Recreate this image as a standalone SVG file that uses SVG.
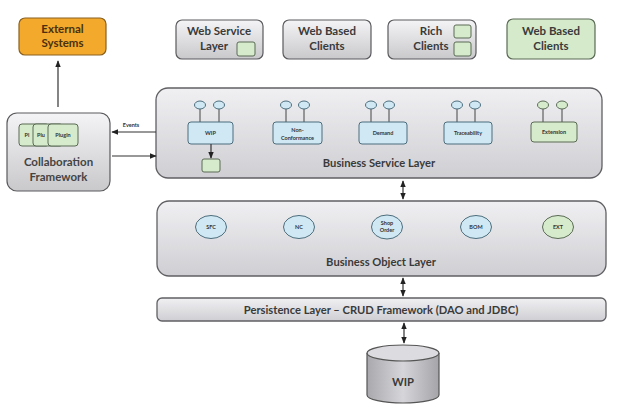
<svg xmlns="http://www.w3.org/2000/svg" width="629" height="412" viewBox="0 0 629 412">
<defs>
<linearGradient id="gGray" x1="0" y1="0" x2="0" y2="1">
<stop offset="0" stop-color="#f4f4f6"/><stop offset="1" stop-color="#c9c9cc"/>
</linearGradient>
<linearGradient id="gLayer" x1="0" y1="0" x2="0" y2="1">
<stop offset="0" stop-color="#f0f0f3"/><stop offset="1" stop-color="#cfcfd3"/>
</linearGradient>
<linearGradient id="gCyl" x1="0" y1="0" x2="1" y2="0">
<stop offset="0" stop-color="#a9a9ad"/><stop offset="0.5" stop-color="#d6d6da"/><stop offset="1" stop-color="#a5a5a9"/>
</linearGradient>
<marker id="ah" viewBox="0 0 10 10" refX="9" refY="5" markerWidth="6" markerHeight="6" orient="auto-start-reverse">
<path d="M0,1 L10,5 L0,9 z" fill="#222"/>
</marker>
</defs>
<style>
.t{font-family:Lato,"Open Sans","Liberation Sans",sans-serif;font-weight:bold;fill:#3a3a3a;text-anchor:middle}
.top{font-size:11.5px}
.lbl{font-size:11.2px}
.gray{fill:url(#gGray);stroke:#5a5a5e;stroke-width:1.2}
.layer{fill:url(#gLayer);stroke:#606064;stroke-width:1.3}
.blue{fill:#cfe8f4;stroke:#4d6d7c;stroke-width:1}
.green{fill:#d6ebcc;stroke:#5a6a55;stroke-width:1}
.small{font-size:5.5px;fill:#333}
.stem{stroke:#444;stroke-width:1;fill:none}
.conn{stroke:#333;stroke-width:1.2;fill:none}
</style>

<g id="external-systems">
<rect x="19" y="18" width="87" height="37" rx="6" fill="#f2a92c" stroke="#8a6020" stroke-width="1.2"/>
<text class="t top" x="62.5" y="33" style="fill:#4a3010">External</text>
<text class="t top" x="62.5" y="47" style="fill:#4a3010">Systems</text>
</g>

<g id="web-service-layer">
<rect class="gray" x="176" y="20" width="87" height="39" rx="6"/>
<text class="t top" x="219" y="35">Web Service</text>
<text class="t top" x="214" y="50">Layer</text>
<rect class="green" x="237" y="42" width="18" height="14" rx="2"/>
</g>

<g id="web-based-clients-gray">
<rect class="gray" x="283" y="20" width="88" height="39" rx="6"/>
<text class="t top" x="327" y="35">Web Based</text>
<text class="t top" x="327" y="50">Clients</text>
</g>

<g id="rich-clients">
<rect class="gray" x="388" y="20" width="88" height="39" rx="6"/>
<text class="t top" x="431" y="35">Rich</text>
<text class="t top" x="431" y="50">Clients</text>
<rect class="green" x="454" y="25" width="17" height="13" rx="2"/>
<rect class="green" x="454" y="42" width="17" height="14" rx="2"/>
</g>

<g id="web-based-clients-green">
<rect x="507" y="19" width="88" height="40" rx="6" fill="#d4eacb" stroke="#5a6a55" stroke-width="1.2"/>
<text class="t top" x="551" y="35">Web Based</text>
<text class="t top" x="551" y="50">Clients</text>
</g>

<g id="collaboration-framework">
<rect class="gray" x="7" y="113" width="103" height="78" rx="10"/>
<rect class="green" x="19" y="124" width="30" height="22" rx="3"/>
<text class="t small" x="27" y="137">Pl</text>
<rect class="green" x="33" y="124" width="30" height="22" rx="3"/>
<text class="t small" x="41" y="137">Plu</text>
<rect class="green" x="48" y="124" width="30" height="22" rx="3"/>
<text class="t small" x="63" y="137">Plugin</text>
<text class="t" x="58.5" y="166" style="font-size:11.5px;fill:#444">Collaboration</text>
<text class="t" x="58.5" y="181" style="font-size:11.5px;fill:#444">Framework</text>
</g>

<g id="business-service-layer">
<rect class="layer" x="156" y="88" width="446" height="90" rx="12"/>
<text class="t lbl" x="379" y="167">Business Service Layer</text>
</g>

<g id="svc-wip">
<line class="stem" x1="200" y1="109" x2="200" y2="122"/>
<line class="stem" x1="219" y1="109" x2="219" y2="122"/>
<ellipse class="blue" cx="200" cy="105" rx="5.5" ry="4"/>
<ellipse class="blue" cx="219" cy="105" rx="5.5" ry="4"/>
<rect class="blue" x="188" y="122" width="45" height="22" rx="3"/>
<text class="t small" x="210.5" y="135">WIP</text>
<rect class="green" x="202" y="159" width="18" height="13" rx="2"/>
</g>

<g id="svc-nonconformance">
<line class="stem" x1="286" y1="109" x2="286" y2="122"/>
<line class="stem" x1="304" y1="109" x2="304" y2="122"/>
<ellipse class="blue" cx="286" cy="105" rx="5.5" ry="4"/>
<ellipse class="blue" cx="304" cy="105" rx="5.5" ry="4"/>
<rect class="blue" x="273" y="122" width="49" height="22" rx="3"/>
<text class="t small" x="297.5" y="132">Non-</text>
<text class="t small" x="297.5" y="139.5">Conformance</text>
</g>

<g id="svc-demand">
<line class="stem" x1="371" y1="109" x2="371" y2="122"/>
<line class="stem" x1="389" y1="109" x2="389" y2="122"/>
<ellipse class="blue" cx="371" cy="105" rx="5.5" ry="4"/>
<ellipse class="blue" cx="389" cy="105" rx="5.5" ry="4"/>
<rect class="blue" x="359" y="122" width="48" height="22" rx="3"/>
<text class="t small" x="383" y="135">Demand</text>
</g>

<g id="svc-traceability">
<line class="stem" x1="457" y1="109" x2="457" y2="122"/>
<line class="stem" x1="475" y1="109" x2="475" y2="122"/>
<ellipse class="blue" cx="457" cy="105" rx="5.5" ry="4"/>
<ellipse class="blue" cx="475" cy="105" rx="5.5" ry="4"/>
<rect class="blue" x="444" y="122" width="48" height="22" rx="3"/>
<text class="t small" x="468" y="135">Traceability</text>
</g>

<g id="svc-extension">
<line class="stem" x1="543" y1="109" x2="543" y2="122"/>
<line class="stem" x1="562" y1="109" x2="562" y2="122"/>
<ellipse class="green" cx="543" cy="105" rx="5.5" ry="4"/>
<ellipse class="green" cx="562" cy="105" rx="5.5" ry="4"/>
<rect class="green" x="531" y="122" width="46" height="20" rx="3"/>
<text class="t small" x="554" y="134">Extension</text>
</g>

<g id="business-object-layer">
<rect class="layer" x="157" y="201" width="449" height="75" rx="12"/>
<text class="t lbl" x="381" y="266">Business Object Layer</text>
</g>

<g id="bo-sfc">
<ellipse class="blue" cx="211" cy="227" rx="15.5" ry="11.5"/>
<text class="t small" x="211" y="229">SFC</text>
</g>
<g id="bo-nc">
<ellipse class="blue" cx="299" cy="227" rx="15.5" ry="11.5"/>
<text class="t small" x="299" y="229">NC</text>
</g>
<g id="bo-shop-order">
<ellipse class="blue" cx="387" cy="227" rx="15.5" ry="12"/>
<text class="t small" x="387" y="225">Shop</text>
<text class="t small" x="387" y="232">Order</text>
</g>
<g id="bo-bom">
<ellipse class="blue" cx="476" cy="227" rx="15.5" ry="11.5"/>
<text class="t small" x="476" y="229">BOM</text>
</g>
<g id="bo-ext">
<ellipse class="green" cx="558" cy="227" rx="15.5" ry="11.5"/>
<text class="t small" x="558" y="229">EXT</text>
</g>

<g id="persistence-layer">
<rect class="layer" x="157" y="298" width="449" height="23" rx="5"/>
<text class="t lbl" x="381" y="313.5">Persistence Layer – CRUD Framework (DAO and JDBC)</text>
</g>

<g id="wip-db">
<path d="M367,353 L367,395 A36,8 0 0 0 439,395 L439,353" fill="url(#gCyl)" stroke="#555" stroke-width="1.2"/>
<ellipse cx="403" cy="353" rx="36" ry="8" fill="#dcdce0" stroke="#555" stroke-width="1.2"/>
<text class="t lbl" x="403" y="386">WIP</text>
</g>

<g id="connectors">
<line class="conn" x1="58" y1="107" x2="58" y2="61" marker-end="url(#ah)"/>
<line class="conn" x1="156" y1="132" x2="112" y2="132" marker-end="url(#ah)"/>
<text class="t" x="131" y="127" style="font-size:5.5px;fill:#333">Events</text>
<line class="conn" x1="112" y1="156" x2="156" y2="156" marker-end="url(#ah)"/>
<line class="conn" x1="211" y1="144" x2="211" y2="158" marker-end="url(#ah)"/>
<line class="conn" x1="403" y1="181" x2="403" y2="199" marker-start="url(#ah)" marker-end="url(#ah)"/>
<line class="conn" x1="403" y1="278" x2="403" y2="296" marker-start="url(#ah)" marker-end="url(#ah)"/>
<line class="conn" x1="404" y1="323" x2="404" y2="343" marker-start="url(#ah)" marker-end="url(#ah)"/>
</g>
</svg>
